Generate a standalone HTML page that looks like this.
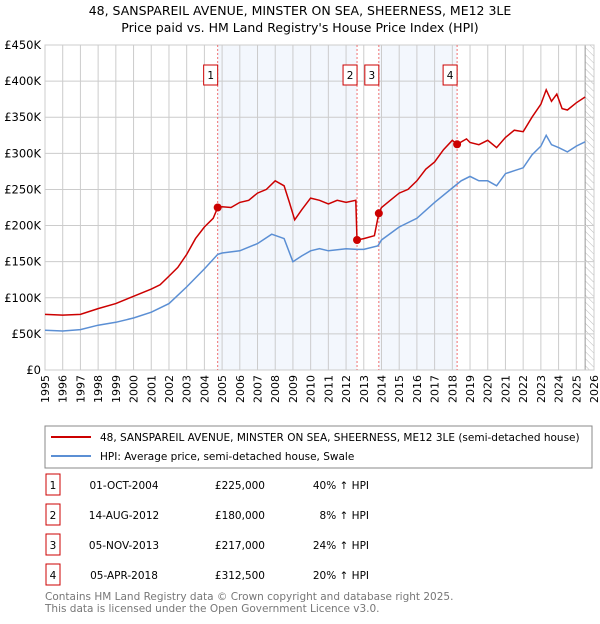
<!DOCTYPE html>
<html><head><meta charset="utf-8"><style>
body{margin:0;background:#fff;font-family:"DejaVu Sans","Liberation Sans",sans-serif;}
svg text{font-family:"DejaVu Sans","Liberation Sans",sans-serif;}
</style></head><body>
<svg id="c" width="600" height="620" xmlns="http://www.w3.org/2000/svg">
<text x="300" y="15" text-anchor="middle" font-size="12.5">48, SANSPAREIL AVENUE, MINSTER ON SEA, SHEERNESS, ME12 3LE</text>
<text x="300" y="32" text-anchor="middle" font-size="12.5">Price paid vs. HM Land Registry's House Price Index (HPI)</text>
<g id="plot"></g>
<rect x="45" y="426" width="547" height="42" fill="#fff" stroke="#888"/>
<line x1="51" y1="437" x2="91" y2="437" stroke="#cc0000" stroke-width="2"/>
<text x="100" y="441" font-size="10.5">48, SANSPAREIL AVENUE, MINSTER ON SEA, SHEERNESS, ME12 3LE (semi-detached house)</text>
<line x1="51" y1="456" x2="91" y2="456" stroke="#5b8fd4" stroke-width="2"/>
<text x="100" y="460" font-size="10.5">HPI: Average price, semi-detached house, Swale</text>
<g id="tbl" font-size="10.5"></g>
<text x="45" y="600" font-size="10.5" fill="#777">Contains HM Land Registry data © Crown copyright and database right 2025.</text>
<text x="45" y="612" font-size="10.5" fill="#777">This data is licensed under the Open Government Licence v3.0.</text>
</svg>
<script>
const hpiYears=[1995,1996,1997,1998,1999,2000,2001,2002,2003,2004,2004.75,2005,2006,2007,2007.8,2008.5,2009,2009.5,2010,2010.5,2011,2012,2012.6,2013,2013.8,2014,2015,2016,2017,2018,2018.5,2019,2019.5,2020,2020.5,2021,2021.5,2022,2022.5,2023,2023.3,2023.6,2024,2024.5,2025,2025.5];
const hpiValues=[55,54,56,62,66,72,80,92,115,140,160,162,165,175,188,182,150,158,165,168,165,168,167,167,172,180,198,210,232,252,262,268,262,262,255,272,276,280,298,310,325,312,308,302,310,316];
const propYears=[1995,1996,1997,1998,1999,2000,2001,2001.5,2002,2002.5,2003,2003.5,2004,2004.5,2004.75,2005,2005.5,2006,2006.5,2007,2007.5,2008,2008.5,2008.8,2009.1,2009.5,2010,2010.5,2011,2011.5,2012,2012.55,2012.62,2013,2013.6,2013.85,2014,2014.5,2015,2015.5,2016,2016.5,2017,2017.5,2018,2018.27,2018.8,2019,2019.5,2020,2020.5,2021,2021.5,2022,2022.5,2023,2023.3,2023.6,2023.9,2024.2,2024.5,2025,2025.5];
const propValues=[77,76,77,85,92,102,112,118,130,142,160,182,198,210,225,226,225,232,235,245,250,262,255,232,208,222,238,235,230,235,232,235,180,182,186,217,225,235,245,250,262,278,288,305,318,312.5,320,315,312,318,308,322,332,330,350,368,388,372,382,362,360,370,378];
const saleLabels=["1","2","3","4"];
const saleYears=[2004.75,2012.62,2013.85,2018.27];
const saleValues=[225,180,217,312.5];
const saleDates=["01-OCT-2004","14-AUG-2012","05-NOV-2013","05-APR-2018"];
const salePrices=["£225,000","£180,000","£217,000","£312,500"];
const salePcts=["40% \u2191 HPI","8% \u2191 HPI","24% \u2191 HPI","20% \u2191 HPI"];
const yTicks=[0,50,100,150,200,250,300,350,400,450];
const yTickLabels=["£0","£50K","£100K","£150K","£200K","£250K","£300K","£350K","£400K","£450K"];
const xTicks=[1995,1996,1997,1998,1999,2000,2001,2002,2003,2004,2005,2006,2007,2008,2009,2010,2011,2012,2013,2014,2015,2016,2017,2018,2019,2020,2021,2022,2023,2024,2025,2026];
const X0=45,X1=594,Y0=370,Y1=45;
const xs=y=>X0+(y-1995)/(2026-1995)*(X1-X0);
const ys=v=>Y0-v/450*(Y0-Y1);
const NS="http://www.w3.org/2000/svg";
const g=document.getElementById('plot');
function mk(t,a,p){const e=document.createElementNS(NS,t);for(const k in a)e.setAttribute(k,a[k]);(p||g).appendChild(e);return e;}
// shading
for(const [a,b] of [[0,1],[2,3]]){const r=mk('rect',{x:xs(saleYears[a]),y:Y1,width:xs(saleYears[b])-xs(saleYears[a]),height:Y0-Y1,fill:'#eef3fc',opacity:0.7});

}
// hatch
const defs=mk('defs',{});const pat=mk('pattern',{id:'h',width:5,height:5,patternUnits:'userSpaceOnUse',patternTransform:'rotate(-45)'},defs);mk('line',{x1:0,y1:0,x2:0,y2:5,stroke:'#bbb','stroke-width':1},pat);
const hr=mk('rect',{x:xs(2025.5),y:Y1,width:X1-xs(2025.5),height:Y0-Y1,fill:'url(#h)'});


mk('line',{x1:xs(2025.5),y1:Y1,x2:xs(2025.5),y2:Y0,stroke:'#999'});
// grid
xTicks.forEach(t=>{const l=mk('line',{x1:xs(t),y1:Y1,x2:xs(t),y2:Y0,stroke:'#ccc'});


const tx=mk('text',{x:0,y:0,'font-size':11,'text-anchor':'end',transform:`translate(${xs(t)+4},${Y0+5}) rotate(-90)`});tx.textContent=t;

});
yTicks.forEach((t,i)=>{const l=mk('line',{x1:X0,y1:ys(t),x2:X1,y2:ys(t),stroke:'#ccc'});


const tx=mk('text',{x:X0-4,y:ys(t)+4,'font-size':11.5,'text-anchor':'end'});tx.textContent=yTickLabels[i];

});
mk('rect',{x:X0,y:Y1,width:X1-X0,height:Y0-Y1,fill:'none',stroke:'#ccc'});
// sale lines
saleYears.forEach((s,i)=>{const l=mk('line',{x1:xs(s),y1:Y1,x2:xs(s),y2:Y0,stroke:'#f07070','stroke-dasharray':'2,2'});


const r=mk('rect',{x:xs(s)-14,y:65,width:14,height:20,fill:'#fff',stroke:'#cc0000'});


const t=mk('text',{x:xs(s)-7,y:79,'font-size':10.5,'text-anchor':'middle'});t.textContent=saleLabels[i];

});
function path(xa,va,c,n){const p=mk('path',{d:xa.map((x,i)=>(i?'L':'M')+xs(x).toFixed(1)+','+ys(va[i]).toFixed(1)).join(''),fill:'none',stroke:c,'stroke-width':1.5});

}
path(hpiYears,hpiValues,'#5b8fd4','hpi-line');
path(propYears,propValues,'#cc0000','property-line');
saleYears.forEach((s,i)=>{const c=mk('circle',{cx:xs(s),cy:ys(saleValues[i]),r:4,fill:'#cc0000'});

});
// table
const tb=document.getElementById('tbl');
const rowY=[485,515,545,575];
saleLabels.forEach((l,i)=>{const y=rowY[i];
const r=mk('rect',{x:46,y:y-11,width:14,height:21,fill:'#fff',stroke:'#cc0000'},tb);


const a=mk('text',{x:53,y:y+4,'text-anchor':'middle'},tb);a.textContent=l;


const d=mk('text',{x:124,y:y+4,'text-anchor':'middle'},tb);d.textContent=saleDates[i];


const p=mk('text',{x:265,y:y+4,'text-anchor':'end'},tb);p.textContent=salePrices[i];


const q=mk('text',{x:369,y:y+4,'text-anchor':'end'},tb);q.textContent=salePcts[i];

});
</script>
</body></html>
